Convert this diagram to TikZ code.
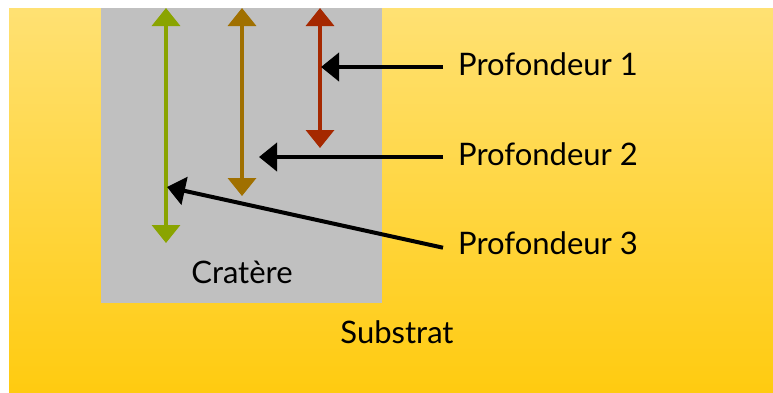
\documentclass[tikz,border=0pt]{standalone}
\usepackage{fontspec}
\setmainfont{Lato}
\usepackage{xcolor}
\usetikzlibrary{arrows.meta, positioning}

\definecolor{substrattop}{RGB}{255,225,115}
\definecolor{substratbot}{RGB}{255,203,16}
\definecolor{cratergray}{RGB}{192,192,192}
\definecolor{depthgreen}{RGB}{138,164,0}
\definecolor{depthbrown}{RGB}{160,112,0}
\definecolor{depthred}{RGB}{165,40,0}

\begin{document}
\begin{tikzpicture}[x=1pt, y=-1pt, >={Triangle[width=28pt, length=18pt]},
    depth/.style={line width=3.5pt, <->},
    pointer/.style={draw=black, line width=4pt, ->},
    tag/.style={font=\fontsize{31}{37}\selectfont, inner sep=0pt}]

\useasboundingbox (0,0) rectangle (773,392);
\shade[top color=substrattop, bottom color=substratbot] (9,8) rectangle (773,392);
\fill[cratergray] (101,8) rectangle (382,303);

\coordinate (gtop) at (166,8);
\coordinate (gbot) at (166,243);
\coordinate (btop) at (242,8);
\coordinate (bbot) at (242,196);
\coordinate (rtop) at (320,8);
\coordinate (rbot) at (320,148);

\coordinate (r1) at (321,67);
\coordinate (b2) at (259,157);
\coordinate (g3) at (167,187);

\node[tag, anchor=base west] (p1) at (458,75) {Profondeur 1};
\node[tag, anchor=base west] (p2) at (458,165) {Profondeur 2};
\node[tag, anchor=base west] (p3) at (458,254) {Profondeur 3};
\node[tag, anchor=base] (crat) at (242,283) {Cratère};
\node[tag, anchor=base] (subs) at (397,343) {Substrat};

\draw[depth, depthgreen] (gtop) -- (gbot);
\draw[depth, depthbrown] (btop) -- (bbot);
\draw[depth, depthred] (rtop) -- (rbot);

\draw[pointer] ([xshift=-15pt]p1.west |- r1) -- (r1);
\draw[pointer] ([xshift=-15pt]p2.west |- b2) -- (b2);
\draw[pointer] ([xshift=-15pt, yshift=-5pt]p3.west) -- (g3);
\end{tikzpicture}
\end{document}
